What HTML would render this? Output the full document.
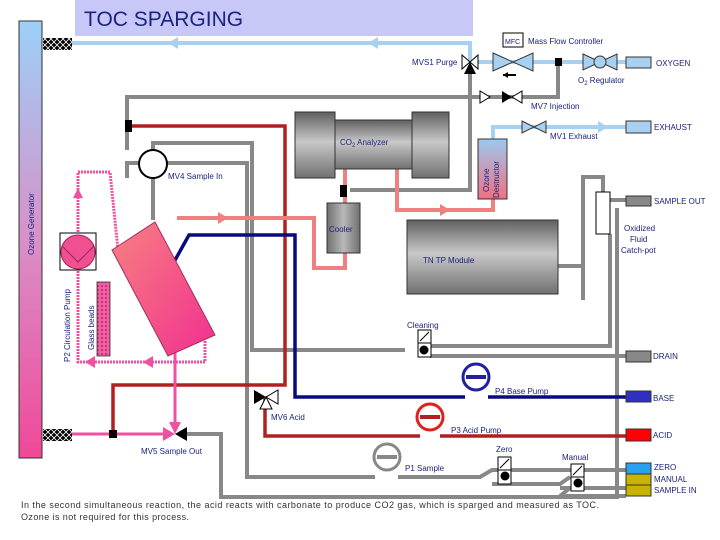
<!DOCTYPE html>
<html><head><meta charset="utf-8"><style>
body{margin:0;background:#fff}
svg{display:block}
text{font-family:"Liberation Sans",sans-serif;font-size:8px;fill:#1a237e}
</style></head><body>
<svg width="720" height="540" viewBox="0 0 720 540" xmlns="http://www.w3.org/2000/svg">
<defs>
<linearGradient id="oz" x1="0" y1="0" x2="0" y2="1"><stop offset="0" stop-color="#9cd0f8"/><stop offset="0.5" stop-color="#d890c8"/><stop offset="1" stop-color="#f04898"/></linearGradient>
<linearGradient id="od" x1="0" y1="0" x2="0" y2="1"><stop offset="0" stop-color="#9cc8f0"/><stop offset="1" stop-color="#f07080"/></linearGradient>
<linearGradient id="gr" x1="0" y1="0" x2="0" y2="1"><stop offset="0" stop-color="#606060"/><stop offset="0.45" stop-color="#c8c8c8"/><stop offset="1" stop-color="#707070"/></linearGradient>
<linearGradient id="gr2" x1="0" y1="0" x2="1" y2="0"><stop offset="0" stop-color="#707070"/><stop offset="0.5" stop-color="#b8b8b8"/><stop offset="1" stop-color="#707070"/></linearGradient>
<linearGradient id="rx" x1="0" y1="0" x2="1" y2="1"><stop offset="0" stop-color="#f88080"/><stop offset="1" stop-color="#f03090"/></linearGradient>
<pattern id="hx" width="6" height="6" patternUnits="userSpaceOnUse"><rect width="6" height="6" fill="#000"/><path d="M0 0L6 6M6 0L0 6" stroke="#fff" stroke-width="0.8"/></pattern>
<pattern id="gb" width="4" height="4" patternUnits="userSpaceOnUse"><rect width="4" height="4" fill="#f060a0"/><circle cx="2" cy="2" r="1" fill="#c02070"/></pattern>
</defs>
<rect x="75" y="0" width="398" height="36" fill="#c8c8f8"/>
<text x="84" y="26" style="font-size:21px;fill:#1a237e">TOC SPARGING</text>
<rect x="19" y="21" width="23" height="437" fill="url(#oz)" stroke="#333" stroke-width="1"/>
<text transform="translate(34,255) rotate(-90)" style="font-size:8px">Ozone Generator</text>
<rect x="43" y="38" width="29" height="12" fill="url(#hx)"/>
<rect x="43" y="429" width="29" height="12" fill="url(#hx)"/>
<g stroke="#a8d0f0" stroke-width="4" fill="none">
<path d="M72 43H470V62"/>
<path d="M477 62H626"/>
<path d="M493 139V127H626"/>
</g>
<g fill="#a8d0f0"><path d="M168 43l10-6v12z"/><path d="M368 43l10-6v12z"/><path d="M608 127l-10-6v12z"/></g>
<g stroke="#888" stroke-width="4" fill="none">
<path d="M558 62V97H127V150"/>
<path d="M127 178V163H139"/>
<path d="M470 70V190H350"/>
<path d="M345 190V203"/>
<path d="M153 150V143H252V350H405"/>
<path d="M167 163H247V477H375"/>
<path d="M153 178V220"/>
<path d="M430 346H610V234"/>
<path d="M430 356H626"/>
<path d="M603 192V177H583V300"/>
<path d="M610 200H626"/>
<path d="M617 208V497H221V434H185"/>
<path d="M398 477H480L492 470H626"/>
<path d="M492 484H560L570 477"/>
<path d="M560 488H626"/>
<path d="M560 496H626M560 496L570 488"/>
<path d="M558 266H583"/>
</g>
<g stroke="#b02020" stroke-width="3.5" fill="none">
<path d="M130 126H285V385H258"/>
<path d="M258 385H113V434"/>
<path d="M265 398V436H420"/>
<path d="M440 436H626"/>
</g>
<g stroke="#0a0a80" stroke-width="3.5" fill="none">
<path d="M174 262L189 235H295V397H465"/>
<path d="M488 397H626"/>
</g>
<g stroke="#f08080" stroke-width="4" fill="none">
<path d="M345 169V203"/>
<path d="M397 169V210H493V199"/>
<path d="M177 218H314V268H345V253"/>
</g>
<path d="M450 210l-10-6v12z" fill="#f08080"/>
<path d="M228 218l-10-6v12z" fill="#f08080"/>
<g stroke="#f050a0" stroke-width="3" fill="none">
<path d="M72 434H165"/>
<path d="M175 425V345"/>
<path d="M78 235V172H110L118 250" stroke-dasharray="2 1"/>
<path d="M78 268V362H205V340" stroke-dasharray="2 1"/>
</g>
<g fill="#f050a0"><path d="M175 340l-5 10h10z"/><path d="M78 188l-5 10h10z"/><path d="M85 362l10-6v12z"/><path d="M143 362l10-6v12z"/></g>
<polygon points="112,250 155,222 215,335 168,356" fill="url(#rx)" stroke="#a03060" stroke-width="1"/>
<rect x="60" y="233" width="36" height="37" fill="#fff" stroke="#000"/>
<circle cx="78" cy="252" r="17" fill="#f05090" stroke="#a02060"/>
<path d="M62 246L78 262L94 246" stroke="#a02060" fill="none"/>
<text transform="translate(70,362) rotate(-90)">P2 Circulation Pump</text>
<rect x="97" y="282" width="13" height="74" fill="url(#gb)" stroke="#333" stroke-width="0.8"/>
<text transform="translate(94,350) rotate(-90)">Glass beads</text>
<circle cx="153" cy="164" r="14" fill="#fff" stroke="#000" stroke-width="2"/>
<text x="168" y="179">MV4 Sample In</text>
<rect x="125" y="120" width="7" height="12" fill="#000"/>
<rect x="295" y="112" width="40" height="66" fill="url(#gr)" stroke="#333"/>
<rect x="335" y="120" width="77" height="49" fill="url(#gr)" stroke="#333"/>
<rect x="412" y="112" width="37" height="66" fill="url(#gr)" stroke="#333"/>
<text x="340" y="145">CO<tspan style="font-size:6px" dy="2">2</tspan><tspan dy="-2"> Analyzer</tspan></text>
<rect x="340" y="185" width="7" height="12" fill="#000"/>
<rect x="327" y="203" width="33" height="50" fill="url(#gr2)" stroke="#333"/>
<text x="329" y="232">Cooler</text>
<rect x="407" y="220" width="151" height="74" fill="url(#gr)" stroke="#333"/>
<text x="423" y="263">TN TP Module</text>
<rect x="478" y="139" width="29" height="60" fill="url(#od)" stroke="#333"/>
<text transform="translate(489,192) rotate(-90)">Ozone</text>
<text transform="translate(499,198) rotate(-90)">Destructor</text>
<path d="M462 55L478 69V55L462 69Z" fill="#fff" stroke="#000"/>
<path d="M470 62l-6 12h12z" fill="#000"/>
<text x="412" y="65">MVS1 Purge</text>
<rect x="503" y="33" width="20" height="14" fill="#fff" stroke="#000"/>
<text x="505" y="44" style="font-size:7px">MFC</text>
<text x="528" y="44">Mass Flow Controller</text>
<path d="M493 53L533 71V53L493 71Z" fill="#a8d0f0" stroke="#333"/>
<path d="M503 75H516" stroke="#000" stroke-width="2"/><path d="M503 75l5-3v6z"/>
<rect x="555" y="58" width="7" height="8" fill="#000"/>
<path d="M583 54L617 70V54L583 70Z" fill="#a8d0f0" stroke="#333"/>
<circle cx="600" cy="62" r="6" fill="#a8d0f0" stroke="#333"/>
<text x="578" y="83">O<tspan style="font-size:6px" dy="2">2</tspan><tspan dy="-2"> Regulator</tspan></text>
<rect x="626" y="57" width="25" height="11" fill="#a8d0f0" stroke="#333"/>
<text x="656" y="66">OXYGEN</text>
<path d="M480 91V103L490 97Z" fill="#fff" stroke="#000"/>
<path d="M502 91V103L512 97Z" fill="#000"/><path d="M522 91V103L512 97Z" fill="#fff" stroke="#000"/>
<text x="531" y="109">MV7 Injection</text>
<path d="M522 121L546 133V121L522 133Z" fill="#a8d0f0" stroke="#333"/>
<text x="550" y="139">MV1 Exhaust</text>
<rect x="626" y="121" width="25" height="12" fill="#a8d0f0" stroke="#333"/>
<text x="654" y="130">EXHAUST</text>
<rect x="596" y="192" width="14" height="42" fill="#fff" stroke="#000"/>
<rect x="626" y="196" width="25" height="10" fill="#888" stroke="#333"/>
<text x="654" y="204">SAMPLE OUT</text>
<text x="624" y="231">Oxidized</text><text x="630" y="242">Fluid</text><text x="621" y="253">Catch-pot</text>
<text x="407" y="328">Cleaning</text>
<rect x="418" y="330" width="13" height="13" fill="#fff" stroke="#000"/><path d="M420 341L429 332" stroke="#000"/>
<rect x="418" y="343" width="13" height="14" fill="#fff" stroke="#000"/><circle cx="424" cy="350" r="4.5"/>
<rect x="626" y="351" width="25" height="11" fill="#888" stroke="#333"/>
<text x="653" y="359">DRAIN</text>
<circle cx="476" cy="377" r="13" fill="#fff" stroke="#2020a0" stroke-width="3"/>
<path d="M466 377H486" stroke="#2020a0" stroke-width="4"/>
<text x="495" y="394">P4 Base Pump</text>
<rect x="626" y="391" width="25" height="11" fill="#3030c0" stroke="#333"/>
<text x="653" y="401">BASE</text>
<path d="M254 390V404L266 397Z" fill="#000"/><path d="M278 390V404L266 397Z" fill="#fff" stroke="#000"/>
<path d="M266 397l-6 12h12z" fill="#fff" stroke="#000"/>
<text x="271" y="420">MV6 Acid</text>
<circle cx="430" cy="417" r="13" fill="#fff" stroke="#e02020" stroke-width="3"/>
<path d="M420 417H440" stroke="#b02020" stroke-width="4"/>
<text x="451" y="433">P3 Acid Pump</text>
<rect x="626" y="429" width="25" height="12" fill="#f00" stroke="#333"/>
<text x="653" y="438">ACID</text>
<rect x="109" y="430" width="8" height="8" fill="#000"/>
<path d="M163 427V441L175 434Z" fill="#f050a0"/><path d="M187 427V441L175 434Z" fill="#000"/>
<path d="M175 434l-6 -12h12z" fill="#f050a0"/>
<text x="141" y="454">MV5 Sample Out</text>
<circle cx="387" cy="457" r="13" fill="#fff" stroke="#888" stroke-width="3"/>
<path d="M377 457H397" stroke="#888" stroke-width="4"/>
<text x="405" y="471">P1 Sample</text>
<text x="496" y="452">Zero</text>
<rect x="498" y="457" width="13" height="13" fill="#fff" stroke="#000"/><path d="M500 468L509 459" stroke="#000"/>
<rect x="498" y="470" width="13" height="14" fill="#fff" stroke="#000"/><circle cx="505" cy="476" r="4.5"/>
<text x="562" y="460">Manual</text>
<rect x="571" y="464" width="13" height="13" fill="#fff" stroke="#000"/><path d="M573 475L582 466" stroke="#000"/>
<rect x="571" y="477" width="13" height="14" fill="#fff" stroke="#000"/><circle cx="578" cy="483" r="4.5"/>
<rect x="626" y="463" width="25" height="11" fill="#2aa0f0" stroke="#333"/>
<rect x="626" y="474" width="25" height="11" fill="#c8b400" stroke="#333"/>
<rect x="626" y="485" width="25" height="11" fill="#c8b400" stroke="#333"/>
<text x="654" y="470">ZERO</text><text x="654" y="482">MANUAL</text><text x="654" y="493">SAMPLE IN</text>
<text x="21" y="508" textLength="578" lengthAdjust="spacing" style="font-size:9px;fill:#333">In the second simultaneous reaction, the acid reacts with carbonate to produce CO2 gas, which is sparged and measured as TOC.</text>
<text x="21" y="520" textLength="168" lengthAdjust="spacing" style="font-size:9px;fill:#333">Ozone is not required for this process.</text>
</svg>
</body></html>
